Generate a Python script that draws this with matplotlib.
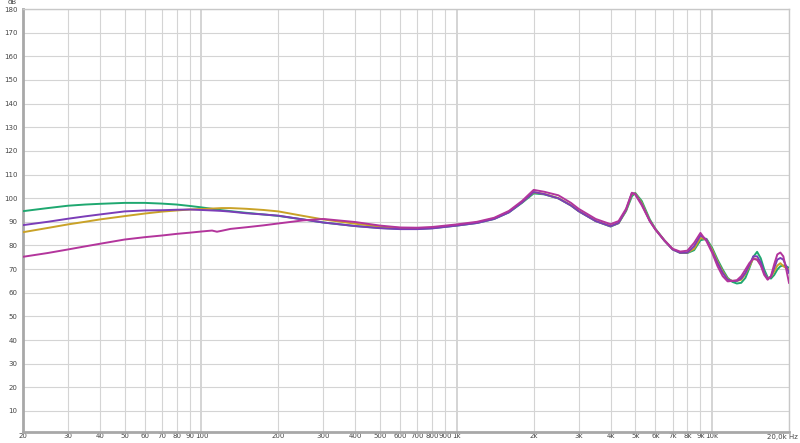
import matplotlib
matplotlib.use("Agg")
import matplotlib.pyplot as plt
from matplotlib.ticker import FixedLocator, NullLocator

freq = [20, 25, 30, 35, 40, 50, 60, 70, 80, 90, 100, 110, 115, 120, 130, 150, 175, 200, 250, 300,
        400, 500, 600, 700, 800, 1000, 1200, 1400, 1600, 1800, 2000, 2200, 2500, 2800, 3000, 3500,
        4000, 4300, 4600, 4850, 5000, 5300, 5700, 6000, 6500, 7000, 7500, 8000, 8500, 9000, 9500,
        10000, 10500, 11000, 11500, 12000, 12500, 13000, 13500, 14000, 14500, 15000, 15500, 16000,
        16500, 17000, 17500, 18000, 18500, 19000, 19500, 20000]

green = [94.5, 95.8, 96.8, 97.3, 97.6, 98.0, 98.0, 97.7, 97.3, 96.7, 96.1, 95.5, 95.2, 94.9, 94.5,
         93.8, 93.1, 92.5, 91.0, 89.7, 88.2, 87.4, 87.0, 87.0, 87.3, 88.4, 89.5, 91.2, 94.0, 98.0,
         102.0, 101.6, 99.9, 96.9, 94.5, 90.3, 88.0, 89.4, 94.5, 100.8, 102.2, 98.8, 91.0, 87.0,
         82.2, 78.4, 76.8, 76.8, 78.0, 82.2, 82.8, 79.0, 74.0, 69.8, 66.3, 64.6, 63.9, 64.2, 66.3,
         70.5, 75.2, 77.3, 74.6, 69.8, 66.5, 66.0, 67.5, 69.8, 71.2, 71.5, 71.2, 70.5]

orange = [85.6, 87.4, 88.9, 90.0, 91.0, 92.4, 93.5, 94.3, 94.8, 95.2, 95.4, 95.6, 95.7, 95.8, 95.8,
          95.5, 95.0, 94.4, 92.5, 91.0, 89.2, 88.0, 87.4, 87.3, 87.5, 88.6, 89.7, 91.4, 94.3, 98.3,
          102.5, 101.8, 100.0, 97.0, 94.6, 90.4, 88.2, 89.5, 94.8, 101.8, 102.0, 98.0, 90.5, 86.8,
          82.1, 78.4, 77.0, 77.0, 78.6, 83.2, 82.5, 78.3, 73.2, 69.0, 65.8, 65.0, 65.0, 65.5, 68.0,
          71.2, 74.6, 74.0, 72.0, 68.4, 66.0, 66.8, 69.0, 71.5, 72.5, 71.2, 70.5, 69.8]

purple = [88.6, 90.0, 91.3, 92.3, 93.1, 94.4, 94.8, 94.9, 95.1, 95.2, 95.0, 94.8, 94.7, 94.6, 94.3,
          93.6, 93.1, 92.6, 91.0, 89.7, 88.2, 87.3, 86.9, 86.9, 87.2, 88.4, 89.5, 91.2, 94.0, 98.2,
          102.6, 101.7, 99.9, 96.9, 94.5, 90.3, 88.1, 89.5, 95.0, 102.2, 101.8, 97.5, 90.3, 86.7,
          82.0, 78.3, 76.9, 77.0, 79.7, 84.3, 82.5, 77.5, 72.6, 68.4, 65.5, 65.0, 65.0, 66.0, 68.4,
          71.8, 75.4, 75.4, 72.9, 68.4, 65.8, 66.8, 70.5, 74.0, 74.7, 74.0, 71.2, 68.4]

magenta = [75.2, 76.8, 78.3, 79.6, 80.7, 82.5, 83.5, 84.2, 84.9, 85.4, 85.9, 86.3, 85.8, 86.2, 87.0,
           87.7, 88.5, 89.3, 90.6, 91.2, 89.9, 88.4, 87.6, 87.5, 87.8, 88.9, 90.0, 91.7, 94.6, 98.8,
           103.5, 102.7, 101.2, 98.0, 95.5, 91.2, 89.0, 90.3, 95.5, 102.3, 101.5, 97.0, 90.3, 86.7,
           82.2, 78.6, 77.4, 77.8, 81.1, 85.3, 81.8, 76.9, 71.2, 67.0, 64.8, 65.0, 65.3, 67.0, 69.8,
           72.6, 74.3, 74.0, 71.5, 67.5, 65.5, 67.0, 72.0, 76.2, 77.0, 75.4, 70.0, 64.2]

x_ticks = [20, 30, 40, 50, 60, 70, 80, 90, 100, 200, 300, 400, 500, 600, 700, 800, 900,
           1000, 2000, 3000, 4000, 5000, 6000, 7000, 8000, 9000, 10000, 20000]
x_labels = ["20", "30", "40", "50", "60", "70", "80", "90", "100", "200", "300", "400", "500",
            "600", "700", "800", "900", "1k", "2k", "3k", "4k", "5k", "6k", "7k", "8k", "9k",
            "10k", ""]
y_ticks = list(range(10, 181, 10))

fig = plt.figure(figsize=(8, 4.43), dpi=100)
ax = fig.add_axes([23 / 800, 1 - 432 / 443, 766 / 800, 423 / 443])
ax.set_xscale("log")
ax.set_xlim(20, 20000)
ax.set_ylim(1.1, 180)

for xv in x_ticks:
    lw = 1.4 if xv in (100, 1000, 10000) else 0.8
    ax.axvline(xv, color="#d4d4d4", lw=lw, zorder=0)
for yv in y_ticks:
    ax.axhline(yv, color="#d4d4d4", lw=0.8, zorder=0)

series = [(green, "#1fa870"), (orange, "#c9a227"), (purple, "#7b3db8"), (magenta, "#b3359c")]
for vals, col in series:
    ax.plot(freq, vals, color=col, lw=1.4, solid_joinstyle="round", zorder=3)

ax.xaxis.set_major_locator(FixedLocator(x_ticks))
ax.xaxis.set_minor_locator(NullLocator())
ax.set_xticklabels(x_labels)
ax.set_yticks(y_ticks)
ax.set_yticklabels([str(v) for v in y_ticks])
ax.tick_params(axis="both", length=0, labelsize=5, colors="#444444")
ax.tick_params(axis="x", pad=1)
ax.tick_params(axis="y", pad=4)

for s in ["left", "bottom"]:
    ax.spines[s].set_color("#a8a8a8")
    ax.spines[s].set_linewidth(2)
for s in ["right", "top"]:
    ax.spines[s].set_color("#c8c8c8")
    ax.spines[s].set_linewidth(1)

fig.text(12 / 800, 1 - 2.5 / 443, "dB", fontsize=5, color="#444444", ha="center", va="center")
fig.text(798 / 800, 1 - 437 / 443, "20,0k Hz", fontsize=5, color="#444444", ha="right", va="center")

fig.savefig("out.png", dpi=100)
